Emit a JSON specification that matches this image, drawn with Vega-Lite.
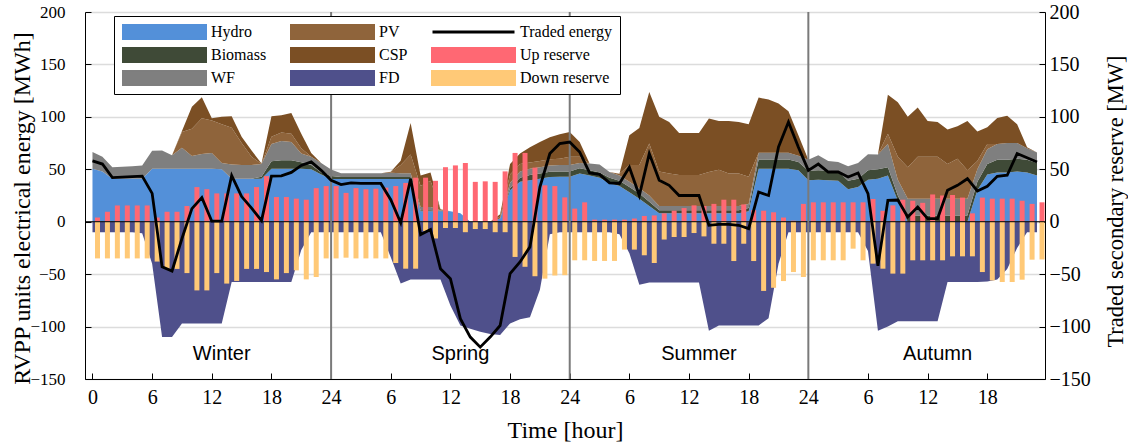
{
  "$schema": "https://vega.github.io/schema/vega-lite/v6.json",
  "width": 960,
  "height": 367,
  "autosize": {"type": "none"},
  "padding": {"left": 85, "top": 12, "right": 83, "bottom": 65},
  "background": "white",
  "config": {
    "view": {"stroke": null},
    "axis": {
      "labelFont": "Liberation Serif", "titleFont": "Liberation Serif",
      "labelColor": "#000", "titleColor": "#000", "titleFontWeight": "normal",
      "domainColor": "#000", "tickColor": "#000", "domainWidth": 1, "tickWidth": 1,
      "labelFontSize": 20, "tickSize": -6
    },
    "axisX": {"grid": false, "labelPadding": 14, "labelFlush": false, "labelAngle": 0},
    "axisY": {"labelPadding": 26, "labelFlush": false}
  },
  "datasets": {
    "energy": [
      {"hour":0,"Hydro":50.6,"Biomass":0,"WF":16,"PV":0,"CSP":0,"FD":-10,"Up":4,"Down":-35,"Traded":58},
      {"hour":1,"Hydro":48,"Biomass":0,"WF":14,"PV":0,"CSP":0,"FD":-10,"Up":9.5,"Down":-35,"Traded":55},
      {"hour":2,"Hydro":41,"Biomass":0,"WF":11,"PV":0,"CSP":0,"FD":-10,"Up":15.5,"Down":-35,"Traded":42},
      {"hour":3,"Hydro":41,"Biomass":0,"WF":11.5,"PV":0,"CSP":0,"FD":-10,"Up":15.5,"Down":-35,"Traded":42.5},
      {"hour":4,"Hydro":41,"Biomass":0,"WF":12,"PV":0,"CSP":0,"FD":-10,"Up":15.5,"Down":-35,"Traded":43},
      {"hour":5,"Hydro":41,"Biomass":0,"WF":12.5,"PV":0,"CSP":0,"FD":-11,"Up":15.5,"Down":-35,"Traded":43.5},
      {"hour":6,"Hydro":50.6,"Biomass":0,"WF":17,"PV":0,"CSP":0,"FD":-40,"Up":4,"Down":-38,"Traded":27},
      {"hour":7,"Hydro":50.6,"Biomass":0,"WF":17.4,"PV":0,"CSP":0,"FD":-110,"Up":9.5,"Down":-45,"Traded":-43},
      {"hour":8,"Hydro":50.6,"Biomass":0,"WF":12.7,"PV":0,"CSP":0,"FD":-110,"Up":9.5,"Down":-45,"Traded":-47},
      {"hour":9,"Hydro":50.6,"Biomass":0,"WF":20,"PV":15,"CSP":1,"FD":-97,"Up":15,"Down":-49,"Traded":-16},
      {"hour":10,"Hydro":50.6,"Biomass":0,"WF":12,"PV":26,"CSP":21,"FD":-97,"Up":33,"Down":-65.5,"Traded":12.5},
      {"hour":11,"Hydro":50.6,"Biomass":0,"WF":14,"PV":34,"CSP":20,"FD":-97,"Up":31,"Down":-65.5,"Traded":23},
      {"hour":12,"Hydro":50.6,"Biomass":0,"WF":15,"PV":31,"CSP":2,"FD":-97,"Up":27,"Down":-49,"Traded":0.5},
      {"hour":13,"Hydro":50,"Biomass":0,"WF":6,"PV":37,"CSP":7,"FD":-97,"Up":27,"Down":-59,"Traded":0.5},
      {"hour":14,"Hydro":41,"Biomass":0,"WF":13.5,"PV":35,"CSP":11,"FD":-57.5,"Up":27,"Down":-56.5,"Traded":44},
      {"hour":15,"Hydro":41,"Biomass":0,"WF":13,"PV":21,"CSP":6,"FD":-57.5,"Up":27,"Down":-45,"Traded":24},
      {"hour":16,"Hydro":41,"Biomass":0,"WF":13,"PV":8,"CSP":6,"FD":-57.5,"Up":33,"Down":-45,"Traded":13},
      {"hour":17,"Hydro":41,"Biomass":2,"WF":12,"PV":0,"CSP":0.4,"FD":-57.5,"Up":43.5,"Down":-48,"Traded":1},
      {"hour":18,"Hydro":50.6,"Biomass":7,"WF":16.4,"PV":7,"CSP":19.6,"FD":-57.5,"Up":23.5,"Down":-55,"Traded":43.5},
      {"hour":19,"Hydro":50.6,"Biomass":8,"WF":18.4,"PV":8,"CSP":16.5,"FD":-57.5,"Up":23.5,"Down":-49,"Traded":43.7},
      {"hour":20,"Hydro":50.6,"Biomass":8,"WF":17.4,"PV":8,"CSP":19.7,"FD":-57.5,"Up":22,"Down":-46.4,"Traded":47},
      {"hour":21,"Hydro":50.6,"Biomass":6,"WF":8.4,"PV":5,"CSP":14,"FD":-27,"Up":21,"Down":-55,"Traded":53.7},
      {"hour":22,"Hydro":50,"Biomass":4,"WF":8,"PV":0,"CSP":3.6,"FD":-10,"Up":32,"Down":-52.7,"Traded":57},
      {"hour":23,"Hydro":45,"Biomass":2,"WF":9,"PV":0,"CSP":0,"FD":-10,"Up":34,"Down":-35,"Traded":49},
      {"hour":24,"Hydro":40.7,"Biomass":3,"WF":6,"PV":0,"CSP":0,"FD":-10,"Up":34,"Down":-35,"Traded":39.5},
      {"hour":25,"Hydro":40.7,"Biomass":2,"WF":3.5,"PV":0,"CSP":0,"FD":-10,"Up":27.5,"Down":-34.3,"Traded":35.4},
      {"hour":26,"Hydro":40.7,"Biomass":2,"WF":3.5,"PV":0,"CSP":0,"FD":-10,"Up":32,"Down":-35,"Traded":37},
      {"hour":27,"Hydro":40.7,"Biomass":2,"WF":3.5,"PV":0,"CSP":0,"FD":-10,"Up":31,"Down":-35,"Traded":36.5},
      {"hour":28,"Hydro":40.7,"Biomass":2,"WF":3.5,"PV":0,"CSP":0,"FD":-10,"Up":31.5,"Down":-35,"Traded":36.5},
      {"hour":29,"Hydro":40.7,"Biomass":2,"WF":3.5,"PV":0,"CSP":0,"FD":-10,"Up":32.5,"Down":-35,"Traded":36.5},
      {"hour":30,"Hydro":40.7,"Biomass":2,"WF":4,"PV":1,"CSP":0,"FD":-34,"Up":34,"Down":-39.4,"Traded":21},
      {"hour":31,"Hydro":40.7,"Biomass":2,"WF":3.5,"PV":8,"CSP":4,"FD":-59,"Up":37,"Down":-44.8,"Traded":-1},
      {"hour":32,"Hydro":40.7,"Biomass":2,"WF":3.5,"PV":18,"CSP":30,"FD":-55,"Up":42,"Down":-44.8,"Traded":41},
      {"hour":33,"Hydro":10,"Biomass":1,"WF":3,"PV":20,"CSP":10,"FD":-55,"Up":42,"Down":-9,"Traded":-12.3},
      {"hour":34,"Hydro":10,"Biomass":1,"WF":3,"PV":25,"CSP":8,"FD":-55,"Up":39,"Down":-16,"Traded":-7.5},
      {"hour":35,"Hydro":10,"Biomass":0.5,"WF":0.5,"PV":1,"CSP":0,"FD":-55,"Up":52,"Down":-6,"Traded":-44.8},
      {"hour":36,"Hydro":10,"Biomass":0,"WF":0,"PV":0,"CSP":0,"FD":-80,"Up":53.7,"Down":-6,"Traded":-54.3},
      {"hour":37,"Hydro":8,"Biomass":0,"WF":0,"PV":0,"CSP":0,"FD":-99,"Up":56,"Down":-10,"Traded":-92.5},
      {"hour":38,"Hydro":0,"Biomass":0,"WF":0,"PV":0,"CSP":0,"FD":-102,"Up":38,"Down":-7,"Traded":-110},
      {"hour":39,"Hydro":0,"Biomass":0,"WF":0,"PV":0,"CSP":0,"FD":-105,"Up":38.5,"Down":-7,"Traded":-119.6},
      {"hour":40,"Hydro":0,"Biomass":0,"WF":0,"PV":0,"CSP":0,"FD":-107,"Up":38,"Down":-10,"Traded":-110},
      {"hour":41,"Hydro":3,"Biomass":0,"WF":0,"PV":2,"CSP":2,"FD":-108,"Up":48,"Down":-10,"Traded":-99},
      {"hour":42,"Hydro":30,"Biomass":2,"WF":5,"PV":8,"CSP":10,"FD":-97,"Up":65.6,"Down":-33.6,"Traded":-49.5},
      {"hour":43,"Hydro":38,"Biomass":4,"WF":6,"PV":7,"CSP":10,"FD":-93,"Up":65.6,"Down":-43,"Traded":-38.4},
      {"hour":44,"Hydro":39.5,"Biomass":5,"WF":6,"PV":6,"CSP":14.5,"FD":-91,"Up":51.6,"Down":-52,"Traded":-24},
      {"hour":45,"Hydro":41,"Biomass":5,"WF":6,"PV":6,"CSP":18,"FD":-65,"Up":34.7,"Down":-54.3,"Traded":33},
      {"hour":46,"Hydro":42.6,"Biomass":5,"WF":6,"PV":6,"CSP":21,"FD":-12,"Up":34,"Down":-51.3,"Traded":65},
      {"hour":47,"Hydro":43,"Biomass":5,"WF":6,"PV":6,"CSP":23.5,"FD":-10,"Up":23.2,"Down":-51,"Traded":74.5},
      {"hour":48,"Hydro":43,"Biomass":5,"WF":6,"PV":8,"CSP":23.6,"FD":-10,"Up":12.5,"Down":-36.8,"Traded":76},
      {"hour":49,"Hydro":46,"Biomass":5,"WF":5,"PV":6,"CSP":14,"FD":-10,"Up":18.5,"Down":-36.8,"Traded":66.5},
      {"hour":50,"Hydro":44,"Biomass":5,"WF":6.4,"PV":0,"CSP":0,"FD":-10,"Up":2,"Down":-37.4,"Traded":46.5},
      {"hour":51,"Hydro":42,"Biomass":5,"WF":7.5,"PV":0,"CSP":0,"FD":-10,"Up":2,"Down":-37.4,"Traded":45.2},
      {"hour":52,"Hydro":37,"Biomass":5,"WF":5.4,"PV":0,"CSP":0,"FD":-10,"Up":2,"Down":-37.4,"Traded":37},
      {"hour":53,"Hydro":34,"Biomass":5,"WF":5,"PV":1.8,"CSP":0,"FD":-12,"Up":2,"Down":-26.6,"Traded":36.5},
      {"hour":54,"Hydro":28,"Biomass":5,"WF":5,"PV":16,"CSP":28.4,"FD":-30,"Up":3,"Down":-26.6,"Traded":52},
      {"hour":55,"Hydro":22,"Biomass":5,"WF":5,"PV":22,"CSP":35.4,"FD":-60,"Up":5.5,"Down":-32,"Traded":25},
      {"hour":56,"Hydro":15,"Biomass":4,"WF":6,"PV":49.5,"CSP":49.3,"FD":-58,"Up":6,"Down":-39.4,"Traded":65},
      {"hour":57,"Hydro":8,"Biomass":3,"WF":4,"PV":33,"CSP":52,"FD":-58,"Up":8,"Down":-17,"Traded":39.5},
      {"hour":58,"Hydro":8,"Biomass":3,"WF":4,"PV":31,"CSP":49,"FD":-58,"Up":10.5,"Down":-14.6,"Traded":34.7},
      {"hour":59,"Hydro":8,"Biomass":3,"WF":4,"PV":29.6,"CSP":40,"FD":-58,"Up":13,"Down":-14.6,"Traded":25},
      {"hour":60,"Hydro":8,"Biomass":3,"WF":4,"PV":29.6,"CSP":40,"FD":-58,"Up":15.6,"Down":-10.8,"Traded":25},
      {"hour":61,"Hydro":8,"Biomass":3,"WF":4,"PV":29.6,"CSP":40,"FD":-58,"Up":15,"Down":-14,"Traded":25},
      {"hour":62,"Hydro":8,"Biomass":3,"WF":4,"PV":32.4,"CSP":51,"FD":-104,"Up":17,"Down":-21,"Traded":-3.4},
      {"hour":63,"Hydro":8,"Biomass":3,"WF":4,"PV":34.6,"CSP":46.4,"FD":-99,"Up":21,"Down":-21,"Traded":-2.5},
      {"hour":64,"Hydro":8,"Biomass":3,"WF":4,"PV":31,"CSP":50,"FD":-99,"Up":21,"Down":-37.5,"Traded":-2.5},
      {"hour":65,"Hydro":8,"Biomass":3,"WF":4,"PV":31,"CSP":49,"FD":-99,"Up":16.5,"Down":-21,"Traded":-3.4},
      {"hour":66,"Hydro":10,"Biomass":3,"WF":4,"PV":26,"CSP":49.9,"FD":-99,"Up":11,"Down":-37.5,"Traded":-6.6},
      {"hour":67,"Hydro":50.6,"Biomass":8.7,"WF":6.4,"PV":0,"CSP":52.7,"FD":-99,"Up":10.5,"Down":-66,"Traded":28.3},
      {"hour":68,"Hydro":50.6,"Biomass":8.7,"WF":6.4,"PV":0,"CSP":50.8,"FD":-92,"Up":9,"Down":-63,"Traded":25},
      {"hour":69,"Hydro":50.6,"Biomass":8.7,"WF":6.4,"PV":0,"CSP":47,"FD":-40,"Up":4,"Down":-56.6,"Traded":71.3},
      {"hour":70,"Hydro":50.6,"Biomass":8.7,"WF":6.4,"PV":0,"CSP":39.6,"FD":-10,"Up":1,"Down":-48,"Traded":95},
      {"hour":71,"Hydro":49,"Biomass":8,"WF":6,"PV":0,"CSP":19.5,"FD":-10,"Up":17,"Down":-52.7,"Traded":71},
      {"hour":72,"Hydro":39.5,"Biomass":9,"WF":10.5,"PV":0,"CSP":0,"FD":-10,"Up":18.5,"Down":-36.8,"Traded":49},
      {"hour":73,"Hydro":40,"Biomass":9,"WF":14.4,"PV":0,"CSP":0,"FD":-10,"Up":18.5,"Down":-36.8,"Traded":55},
      {"hour":74,"Hydro":39.5,"Biomass":9,"WF":9.5,"PV":0,"CSP":0,"FD":-10,"Up":18.5,"Down":-36.8,"Traded":47.4},
      {"hour":75,"Hydro":39,"Biomass":9,"WF":9,"PV":0,"CSP":0,"FD":-10,"Up":18.5,"Down":-36.8,"Traded":47.4},
      {"hour":76,"Hydro":31,"Biomass":8,"WF":14,"PV":0,"CSP":0,"FD":-10,"Up":18.5,"Down":-25.7,"Traded":42.7},
      {"hour":77,"Hydro":33,"Biomass":8,"WF":15,"PV":0,"CSP":0,"FD":-10,"Up":18.5,"Down":-36.8,"Traded":46.5},
      {"hour":78,"Hydro":40,"Biomass":9,"WF":15.3,"PV":0,"CSP":0,"FD":-28,"Up":21.7,"Down":-40,"Traded":26.8},
      {"hour":79,"Hydro":41,"Biomass":9,"WF":14,"PV":0,"CSP":0,"FD":-104,"Up":10.4,"Down":-44.8,"Traded":-42},
      {"hour":80,"Hydro":44,"Biomass":8,"WF":22,"PV":10,"CSP":37,"FD":-100,"Up":15.6,"Down":-49.5,"Traded":20.4},
      {"hour":81,"Hydro":20,"Biomass":5,"WF":15,"PV":22,"CSP":52,"FD":-95,"Up":21,"Down":-49.5,"Traded":20.7},
      {"hour":82,"Hydro":0,"Biomass":6,"WF":16,"PV":30,"CSP":48,"FD":-95,"Up":20,"Down":-36.8,"Traded":4.5},
      {"hour":83,"Hydro":0,"Biomass":6,"WF":16,"PV":40,"CSP":47,"FD":-95,"Up":18,"Down":-36.8,"Traded":14},
      {"hour":84,"Hydro":0,"Biomass":6,"WF":16,"PV":40,"CSP":34,"FD":-95,"Up":26,"Down":-36.8,"Traded":3},
      {"hour":85,"Hydro":0,"Biomass":6,"WF":16,"PV":40,"CSP":33,"FD":-95,"Up":25,"Down":-36.8,"Traded":3},
      {"hour":86,"Hydro":0,"Biomass":6,"WF":16,"PV":33,"CSP":33,"FD":-57.5,"Up":25.5,"Down":-33,"Traded":30},
      {"hour":87,"Hydro":0,"Biomass":6,"WF":16,"PV":38,"CSP":31,"FD":-57.5,"Up":23,"Down":-33,"Traded":34.7},
      {"hour":88,"Hydro":0,"Biomass":6,"WF":16,"PV":27,"CSP":47,"FD":-57.5,"Up":8,"Down":-33,"Traded":41},
      {"hour":89,"Hydro":30,"Biomass":8,"WF":12,"PV":8,"CSP":28,"FD":-57.5,"Up":23,"Down":-48,"Traded":29.3},
      {"hour":90,"Hydro":45,"Biomass":10,"WF":14,"PV":5,"CSP":16,"FD":-57,"Up":22,"Down":-56,"Traded":33.8},
      {"hour":91,"Hydro":47,"Biomass":12,"WF":15,"PV":0,"CSP":25,"FD":-55,"Up":22,"Down":-57.5,"Traded":43.3},
      {"hour":92,"Hydro":47,"Biomass":12,"WF":16,"PV":0,"CSP":26,"FD":-45,"Up":22,"Down":-57.5,"Traded":44.3},
      {"hour":93,"Hydro":48,"Biomass":12,"WF":15,"PV":0,"CSP":18,"FD":-25,"Up":20,"Down":-55.3,"Traded":65},
      {"hour":94,"Hydro":47,"Biomass":12,"WF":11,"PV":0,"CSP":1,"FD":-10,"Up":17,"Down":-36.2,"Traded":61},
      {"hour":95,"Hydro":44,"Biomass":12,"WF":10,"PV":0,"CSP":0,"FD":-10,"Up":18.5,"Down":-36,"Traded":57}
    ],
    "seasons": [
      {"season": "Winter", "start": 0},
      {"season": "Spring", "start": 24},
      {"season": "Summer", "start": 48},
      {"season": "Autumn", "start": 72}
    ]
  },
  "layer": [
    {
      "layer": [
        {
          "data": {"name": "energy"},
          "transform": [
            {"fold": ["Hydro", "Biomass", "WF", "PV", "CSP"], "as": ["series", "mwh"]},
            {"calculate": "indexof(['Hydro','Biomass','WF','PV','CSP'], datum.series)", "as": "stack_rank"}
          ],
          "mark": {"type": "area", "interpolate": "linear", "clip": true},
          "encoding": {
            "x": {
              "field": "hour", "type": "quantitative", "title": "Time [hour]",
              "scale": {"domain": [-0.25, 95.3], "nice": false, "zero": false},
              "axis": {
                "values": [0, 6, 12, 18, 24, 30, 36, 42, 48, 54, 60, 66, 72, 78, 84, 90],
                "labelExpr": "datum.value == 0 ? '0' : (datum.value % 24 == 0 ? '24' : '' + (datum.value % 24))",
                "titleFontSize": 24, "titleBaseline": "alphabetic", "titleY": 58
              }
            },
            "y": {
              "field": "mwh", "type": "quantitative", "stack": "zero",
              "title": "RVPP units electrical energy [MWh]",
              "scale": {"domain": [-150, 200], "nice": false},
              "axis": {
                "values": [-150, -100, -50, 0, 50, 100, 150, 200],
                "grid": true, "gridColor": "#dcdcdc", "gridWidth": 1.5,
                "labelFontSize": 17,
                "titleFontSize": 24, "titleAngle": 270, "titleBaseline": "alphabetic",
                "titleX": -56, "titleY": 196
              }
            },
            "color": {
              "field": "series", "type": "nominal",
              "scale": {
                "domain": ["Hydro", "Biomass", "WF", "PV", "CSP", "FD", "Traded", "Up", "Down"],
                "range": ["#5390d9", "#3f4a37", "#7f7f7f", "#8f643b", "#7b4f24", "#4f508b", "#000000", "#ff6873", "#ffc977"]
              },
              "legend": {
                "orient": "none", "legendX": 29, "legendY": 4,
                "title": null, "columns": 3, "columnPadding": 23, "rowPadding": 7,
                "padding": 8, "strokeColor": "#000", "fillColor": "white",
                "symbolSize": 6724, "clipHeight": 16, "symbolStrokeWidth": 3,
                "labelFont": "Liberation Serif", "labelFontSize": 16, "labelColor": "#000",
                "labelOffset": 4, "labelLimit": 220,
                "labelExpr": "datum.label == 'Traded' ? 'Traded energy' : datum.label == 'Up' ? 'Up reserve' : datum.label == 'Down' ? 'Down reserve' : datum.label",
                "encode": {
                  "symbols": {
                    "update": {
                      "shape": {"signal": "datum.value === 'Traded' ? 'stroke' : 'M-1,-0.195H1V0.195H-1Z'"},
                      "fill": {"signal": "datum.value === 'Traded' ? 'transparent' : scale('color', datum.value)"},
                      "stroke": {"signal": "datum.value === 'Traded' ? '#000' : 'transparent'"},
                      "opacity": {"value": 1},
                      "fillOpacity": {"value": 1}
                    }
                  }
                }
              }
            },
            "order": {"field": "stack_rank", "type": "quantitative"}
          }
        },
        {
          "data": {"name": "energy"},
          "transform": [{"fold": ["FD"], "as": ["series", "mwh"]}],
          "mark": {"type": "area", "interpolate": "linear", "clip": true},
          "encoding": {
            "x": {"field": "hour", "type": "quantitative", "title": "Time [hour]"},
            "y": {"field": "mwh", "type": "quantitative", "stack": null, "title": "RVPP units electrical energy [MWh]"},
            "y2": {"datum": 0},
            "color": {
              "field": "series", "type": "nominal", "legend": null,
              "scale": {
                "domain": ["Hydro", "Biomass", "WF", "PV", "CSP", "FD", "Traded", "Up", "Down"],
                "range": ["#5390d9", "#3f4a37", "#7f7f7f", "#8f643b", "#7b4f24", "#4f508b", "#000000", "#ff6873", "#ffc977"]
              }
            }
          }
        },
        {
          "data": {"name": "energy"},
          "transform": [{"fold": ["Up", "Down"], "as": ["series", "mw"]}],
          "mark": {"type": "bar", "orient": "vertical", "width": 5, "xOffset": 5, "clip": true},
          "encoding": {
            "x": {"field": "hour", "type": "quantitative", "title": "Time [hour]"},
            "y": {"field": "mw", "type": "quantitative", "stack": null, "title": "RVPP units electrical energy [MWh]"},
            "y2": {"datum": 0},
            "color": {
              "field": "series", "type": "nominal", "legend": null,
              "scale": {
                "domain": ["Hydro", "Biomass", "WF", "PV", "CSP", "FD", "Traded", "Up", "Down"],
                "range": ["#5390d9", "#3f4a37", "#7f7f7f", "#8f643b", "#7b4f24", "#4f508b", "#000000", "#ff6873", "#ffc977"]
              }
            }
          }
        },
        {
          "data": {"values": [{"baseline": 0}]},
          "mark": {"type": "rule", "color": "#000", "strokeWidth": 1},
          "encoding": {
            "y": {"field": "baseline", "type": "quantitative", "title": "RVPP units electrical energy [MWh]"}
          }
        },
        {
          "data": {"name": "seasons"},
          "transform": [{"filter": "datum.start > 0"}],
          "mark": {"type": "rule", "color": "#7a7a7a", "strokeWidth": 2},
          "encoding": {
            "x": {"field": "start", "type": "quantitative", "title": "Time [hour]"}
          }
        },
        {
          "data": {"name": "seasons"},
          "transform": [{"calculate": "datum.start + 13", "as": "label_hour"}],
          "mark": {"type": "text", "font": "Liberation Sans", "fontSize": 20, "color": "#000", "baseline": "middle", "align": "center"},
          "encoding": {
            "x": {"field": "label_hour", "type": "quantitative", "title": "Time [hour]"},
            "y": {"datum": -126},
            "text": {"field": "season"}
          }
        }
      ]
    },
    {
      "data": {"name": "energy"},
      "mark": {"type": "line", "strokeWidth": 2.8, "interpolate": "linear", "clip": true},
      "encoding": {
        "x": {"field": "hour", "type": "quantitative", "title": "Time [hour]"},
        "y": {
          "field": "Traded", "type": "quantitative", "title": "Traded secondary reserve [MW]",
          "scale": {"domain": [-150, 200], "nice": false},
          "axis": {
            "orient": "right",
            "values": [-150, -100, -50, 0, 50, 100, 150, 200],
            "grid": false, "labelPadding": 10,
            "titleFontSize": 22.5, "titleAngle": 270, "titleBaseline": "alphabetic",
            "titleX": 77, "titleY": 189
          }
        },
        "color": {
          "datum": "Traded", "legend": null,
          "scale": {
            "domain": ["Hydro", "Biomass", "WF", "PV", "CSP", "FD", "Traded", "Up", "Down"],
            "range": ["#5390d9", "#3f4a37", "#7f7f7f", "#8f643b", "#7b4f24", "#4f508b", "#000000", "#ff6873", "#ffc977"]
          }
        }
      }
    }
  ],
  "resolve": {"scale": {"y": "independent"}}
}
